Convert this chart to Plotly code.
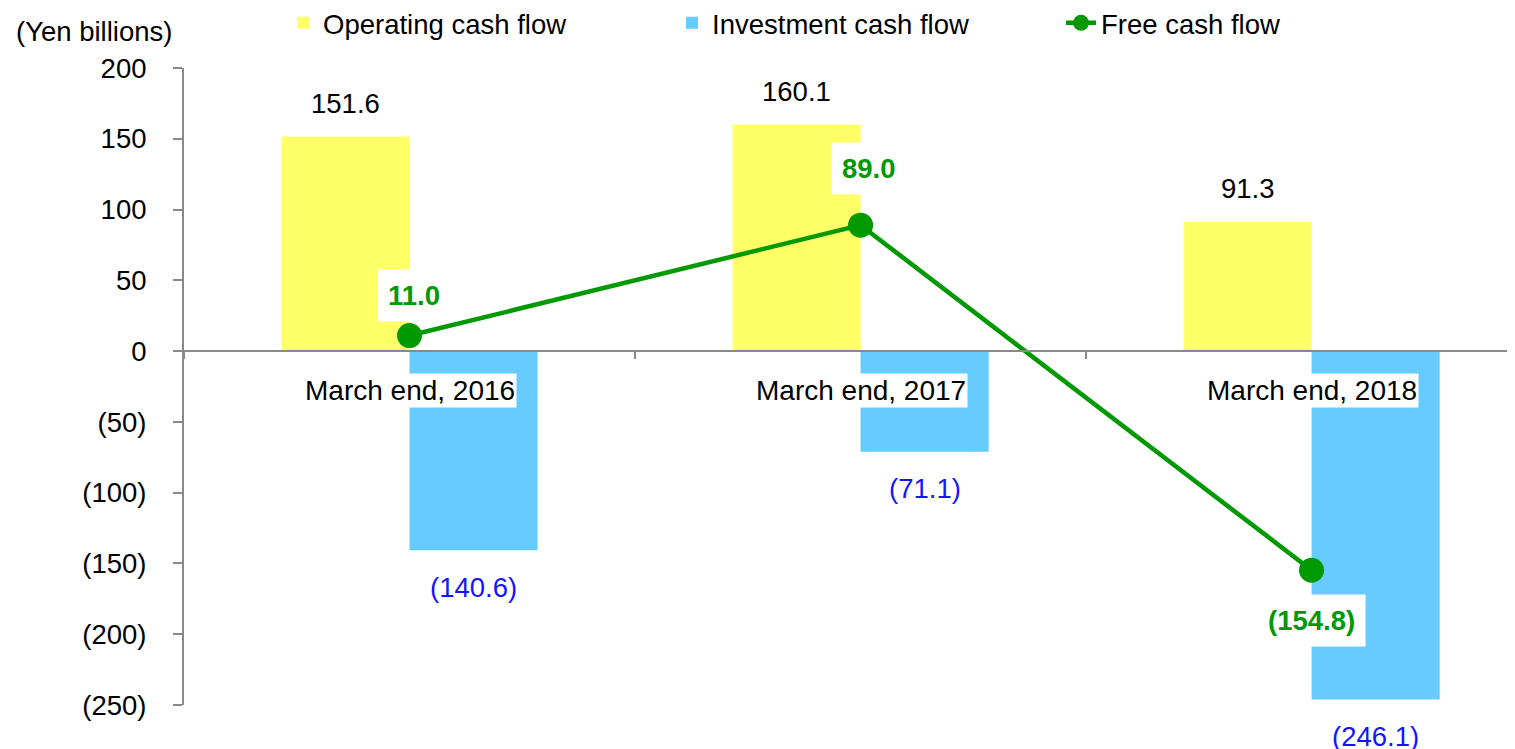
import plotly.graph_objects as go

categories = ["March end, 2016", "March end, 2017", "March end, 2018"]
operating = [151.6, 160.1, 91.3]
investment = [-140.6, -71.1, -246.1]
free_cf = [11.0, 89.0, -154.8]
y_ticks = [-250, -200, -150, -100, -50, 0, 50, 100, 150, 200]


def fmt(v, dec=1):
    s = f"{abs(v):.{dec}f}"
    return s if v >= 0 else f"({s})"


FONT = "Arial, 'Liberation Sans', sans-serif"
FS = 27.5
YELLOW = "#FFFF66"
BLUE = "#66CCFF"
GREEN = "#009900"
BLUE_TXT = "#1414FF"
AXIS = "#898989"

fig = go.Figure()
fig.add_bar(x=categories, y=operating, name="Operating cash flow",
            marker=dict(color=YELLOW, line=dict(width=0)))
fig.add_bar(x=categories, y=investment, name="Investment cash flow",
            marker=dict(color=BLUE, line=dict(width=0)))
fig.add_scatter(x=categories, y=free_cf, name="Free cash flow", mode="lines+markers",
                line=dict(color=GREEN, width=4.5),
                marker=dict(size=25, color=GREEN))

ann = []
# category labels on the zero line
for c in categories:
    ann.append(dict(x=c, y=0, xref="x", yref="y", text=c, showarrow=False,
                    yshift=-39, bgcolor="white", borderpad=1,
                    font=dict(size=28, color="black", family=FONT)))
# operating labels
for c, v in zip(categories, operating):
    ann.append(dict(x=c, y=v, xref="x", yref="y", text=fmt(v), showarrow=False,
                    xshift=-64, yshift=33,
                    font=dict(size=FS, color="black", family=FONT)))
# investment labels
for c, v in zip(categories, investment):
    ann.append(dict(x=c, y=v, xref="x", yref="y", text=fmt(v), showarrow=False,
                    xshift=64, yshift=-37,
                    font=dict(size=FS, color=BLUE_TXT, family=FONT)))
# free cash flow labels
fcf_yshift = [40, 57, -50]
fcf_xshift = [4, 8, 0]
for c, v, dy, dx in zip(categories, free_cf, fcf_yshift, fcf_xshift):
    ann.append(dict(x=c, y=v, xref="x", yref="y", text=f"<b>{fmt(v)}</b>", showarrow=False,
                    xshift=dx, yshift=dy, bgcolor="white", borderpad=10,
                    font=dict(size=FS, color=GREEN, family=FONT)))
# y axis unit
ann.append(dict(x=-0.0676, y=1.058, xref="paper", yref="paper", text="(Yen billions)",
                showarrow=False, xanchor="center", yanchor="middle",
                font=dict(size=FS, color="black", family=FONT)))

fig.update_layout(
    width=1515, height=749,
    margin=dict(l=176, r=8, t=60, b=52, autoexpand=False),
    paper_bgcolor="white", plot_bgcolor="white",
    barmode="group", bargap=0.432, bargroupgap=0,
    font=dict(family=FONT, size=FS, color="black"),
    showlegend=True,
    legend=dict(orientation="h", x=0.0744, xanchor="left", y=1.0707, yanchor="middle",
                font=dict(size=FS, family=FONT, color="black"),
                entrywidth=344, entrywidthmode="pixels",
                bgcolor="rgba(0,0,0,0)", traceorder="normal"),
    annotations=ann,
    xaxis=dict(type="category", range=[-0.5, 2.451], anchor="free", position=250 / 450,
               showline=True, linecolor=AXIS, linewidth=2,
               ticks="outside", tickson="boundaries", ticklen=7, tickcolor=AXIS, tickwidth=2,
               showticklabels=False, showgrid=False, zeroline=False),
    yaxis=dict(range=[-250, 200], tickvals=y_ticks, ticktext=[fmt(v, 0) for v in y_ticks],
               showline=True, linecolor=AXIS, linewidth=2,
               ticks="outside", ticklen=9, tickcolor=AXIS, tickwidth=2,
               ticklabelstandoff=21,
               tickfont=dict(size=FS, family=FONT, color="black"),
               showgrid=False, zeroline=False),
)

fig.write_html("out.html")
